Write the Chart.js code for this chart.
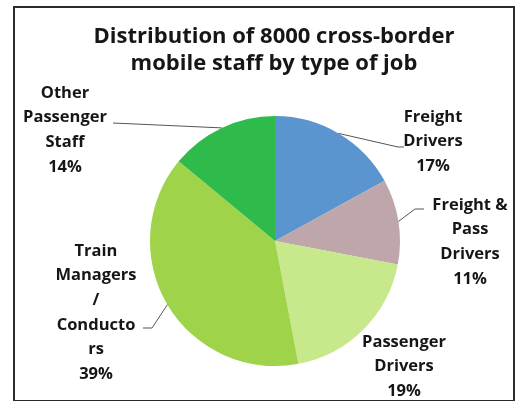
<!DOCTYPE html>
<html>
<head>
<meta charset="utf-8">
<script src="https://cdn.jsdelivr.net/npm/chart.js@4.4.1/dist/chart.umd.min.js"></script>
<style>
  html, body { margin: 0; padding: 0; background: #fff; }
  .wrap { position: relative; width: 517px; height: 401px; }
  .frame {
    position: absolute; left: 13px; top: 6px; width: 498px; height: 392px;
    border: 2px solid #2b2b2b; pointer-events: none;
  }
  canvas { position: absolute; left: 0; top: 0; }
</style>
</head>
<body>
<div class="wrap">
  <canvas id="pie" width="517" height="401"></canvas>
  <div class="frame"></div>
</div>
<script>
// Chart data
const titleLines = ["Distribution of 8000 cross-border", "mobile staff by type of job"];
const categories = [
  "Freight\nDrivers",
  "Freight &\nPass\nDrivers",
  "Passenger\nDrivers",
  "Train\nManagers\n/\nConducto\nrs",
  "Other\nPassenger\nStaff"
];
const shares = [17, 11, 19, 39, 14];
const sliceColors = ["#5a95cf", "#bea6ab", "#c7e98b", "#9fd349", "#2fbb4c"];

// Where each label sits (center of first line) and how its leader line bends.
const labelLayout = [
  { x: 433, y: 117, leader: [[398, 147], [404, 147]] },
  { x: 470, y: 205, leader: [[415, 209], [424, 209]] },
  { x: 404, y: 342, leader: null },
  { x: 96, y: 251, leader: [[152, 328], [143, 328]] },
  { x: 65, y: 93, leader: [[113, 123]] }
];

const labelFont = "bold 16.5px 'Open Sans'";
const lineGap = 24.6;

const textPlugin = {
  id: "textPlugin",
  afterDraw(chart) {
    const ctx = chart.ctx;
    ctx.save();
    ctx.fillStyle = "#161616";
    ctx.textAlign = "center";
    ctx.textBaseline = "middle";

    ctx.font = "bold 22px 'Open Sans'";
    titleLines.forEach((line, i) => ctx.fillText(line, 274, 37 + i * 26.5));

    const meta = chart.getDatasetMeta(0);
    ctx.font = labelFont;
    meta.data.forEach((arc, i) => {
      const layout = labelLayout[i];
      const lines = categories[i].split("\n").concat(shares[i] + "%");
      lines.forEach((line, j) => ctx.fillText(line, layout.x, layout.y + j * lineGap));

      if (!layout.leader) return;
      const mid = (arc.startAngle + arc.endAngle) / 2;
      ctx.strokeStyle = "#555";
      ctx.lineWidth = 1;
      ctx.beginPath();
      ctx.moveTo(arc.x + Math.cos(mid) * arc.outerRadius, arc.y + Math.sin(mid) * arc.outerRadius);
      layout.leader.forEach(([px, py]) => ctx.lineTo(px, py));
      ctx.stroke();
    });
    ctx.restore();
  }
};

new Chart(document.getElementById("pie"), {
  type: "pie",
  data: {
    labels: categories,
    datasets: [{
      data: shares,
      backgroundColor: sliceColors,
      borderWidth: 0
    }]
  },
  options: {
    responsive: false,
    animation: false,
    layout: { padding: { top: 116, bottom: 35, left: 150, right: 117 } },
    plugins: {
      legend: { display: false },
      tooltip: { enabled: false },
      title: { display: false }
    }
  },
  plugins: [textPlugin]
});
</script>
</body>
</html>
